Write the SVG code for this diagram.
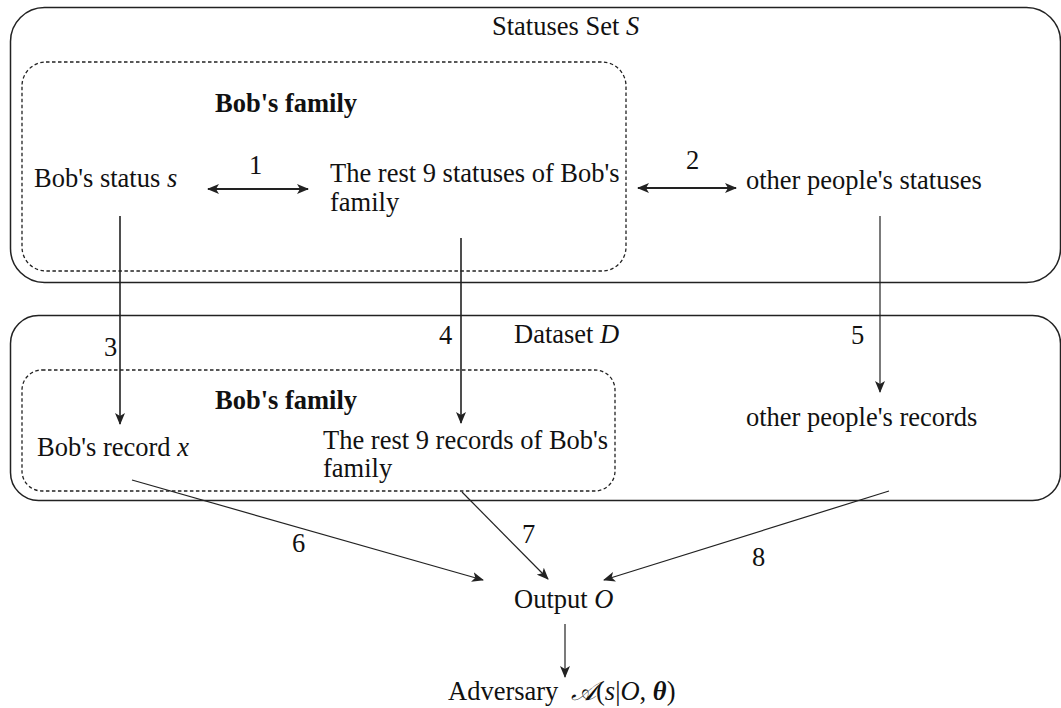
<svg xmlns="http://www.w3.org/2000/svg" width="1061" height="708" viewBox="0 0 1061 708">
<style>
text{font-family:"Liberation Serif","Times New Roman",serif;font-size:26.5px;fill:#111}
.b{font-weight:bold}
.i{font-style:italic}
.box{fill:none;stroke:#222;stroke-width:1.5}
.dash{fill:none;stroke:#222;stroke-width:1.3;stroke-dasharray:3.5 2.5}
.c{fill:none;stroke:#222}
</style>
<defs>
<marker id="ah" viewBox="0 0 12 10" refX="11" refY="5" markerWidth="12" markerHeight="10" markerUnits="userSpaceOnUse" orient="auto-start-reverse">
<path d="M0,0 L12,5 L0,10 L3,5 z" fill="#222"/>
</marker>
</defs>
<g id="statusesSet">
<rect class="box" x="10.5" y="7.5" width="1050" height="275" rx="34"/>
<text x="492" y="35">Statuses Set <tspan class="i">S</tspan></text>
</g>
<g id="familyStatuses">
<rect class="dash" x="22" y="62" width="604" height="209" rx="24"/>
<text class="b" x="215" y="112">Bob's family</text>
</g>
<g id="bobStatus"><text x="34" y="187">Bob's status <tspan class="i">s</tspan></text></g>
<g id="restStatuses"><text x="330" y="182">The rest 9 statuses of Bob's</text><text x="330" y="210.5">family</text></g>
<g id="otherStatuses"><text x="746" y="189">other people's statuses</text></g>
<g id="dataset">
<rect class="box" x="10.5" y="315.5" width="1050" height="185" rx="28"/>
<text x="514" y="343">Dataset <tspan class="i">D</tspan></text>
</g>
<g id="familyRecords">
<rect class="dash" x="22" y="370" width="593" height="121" rx="20"/>
<text class="b" x="215" y="409">Bob's family</text>
</g>
<g id="bobRecord"><text x="37" y="456">Bob's record <tspan class="i">x</tspan></text></g>
<g id="restRecords"><text x="323" y="449">The rest 9 records of Bob's</text><text x="323" y="477">family</text></g>
<g id="otherRecords"><text x="746" y="426">other people's records</text></g>
<g id="output"><text x="514" y="608">Output <tspan class="i">O</tspan></text></g>
<g id="adversary"><text x="448" y="700">Adversary <tspan class="i" dx="6">𝒜</tspan>(<tspan class="i">s</tspan>|<tspan class="i">O</tspan>, <tspan class="i b">θ</tspan>)</text></g>
<g id="connectors">
<line class="c" x1="208" y1="189" x2="308" y2="189" stroke-width="2.2" marker-start="url(#ah)" marker-end="url(#ah)"/>
<line class="c" x1="638" y1="188" x2="736" y2="188" stroke-width="2.2" marker-start="url(#ah)" marker-end="url(#ah)"/>
<line class="c" x1="120" y1="216" x2="120" y2="424" stroke-width="1.6" marker-end="url(#ah)"/>
<line class="c" x1="461" y1="238" x2="461" y2="423" stroke-width="1.6" marker-end="url(#ah)"/>
<line class="c" x1="880" y1="216" x2="880" y2="392" stroke-width="1.2" marker-end="url(#ah)"/>
<line class="c" x1="132" y1="480" x2="483" y2="580" stroke-width="1.2" marker-end="url(#ah)"/>
<line class="c" x1="462" y1="492" x2="548" y2="579" stroke-width="1.2" marker-end="url(#ah)"/>
<line class="c" x1="889" y1="491" x2="604" y2="580" stroke-width="1.2" marker-end="url(#ah)"/>
<line class="c" x1="565" y1="624" x2="565" y2="677" stroke-width="1.2" marker-end="url(#ah)"/>
<text x="249" y="174">1</text>
<text x="686" y="169">2</text>
<text x="104" y="356">3</text>
<text x="439" y="344">4</text>
<text x="851" y="344">5</text>
<text x="292" y="552">6</text>
<text x="522" y="543">7</text>
<text x="752" y="566">8</text>
</g>
</svg>
